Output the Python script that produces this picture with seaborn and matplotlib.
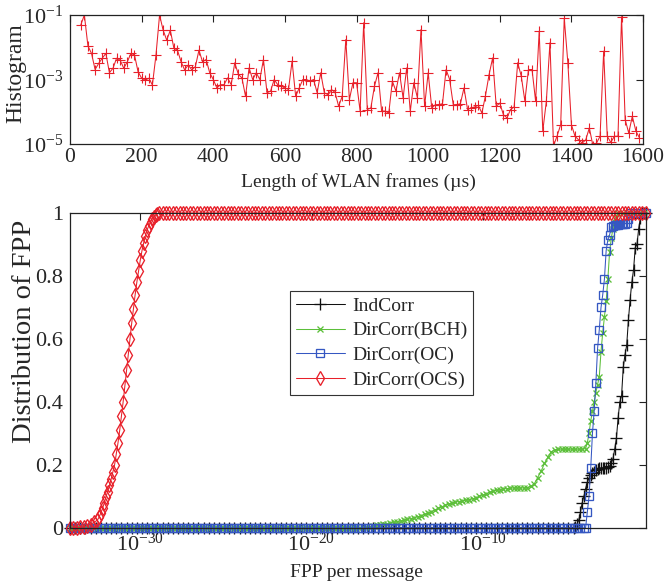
import matplotlib
matplotlib.use("Agg")
import numpy as np
import pandas as pd
import matplotlib.pyplot as plt
import seaborn as sns
from matplotlib.ticker import NullLocator

# ---------------- top panel: histogram of WLAN frame lengths ----------------
hist_x = [
    30, 40, 50, 60, 70, 80, 90, 100, 110, 120,
    130, 140, 150, 160, 170, 180, 190, 200, 210, 220,
    230, 240, 250, 260, 270, 280, 290, 300, 310, 320,
    330, 340, 350, 360, 370, 380, 390, 400, 410, 420,
    430, 440, 450, 460, 470, 480, 490, 500, 510, 520,
    530, 540, 550, 560, 570, 580, 590, 600, 610, 620,
    630, 640, 650, 660, 670, 680, 690, 700, 710, 720,
    730, 740, 750, 760, 770, 780, 790, 800, 810, 820,
    830, 840, 850, 860, 870, 880, 890, 900, 910, 920,
    930, 940, 950, 960, 970, 980, 990, 1000, 1010, 1020,
    1030, 1040, 1050, 1060, 1070, 1080, 1090, 1100, 1110, 1120,
    1130, 1140, 1150, 1160, 1170, 1180, 1190, 1200, 1210, 1220,
    1230, 1240, 1250, 1260, 1270, 1280, 1290, 1300, 1310, 1320,
    1330, 1340, 1350, 1360, 1370, 1380, 1390, 1400, 1410, 1420,
    1430, 1440, 1450, 1460, 1470, 1480, 1490, 1500, 1510, 1520,
    1530, 1540, 1550, 1560, 1570, 1580, 1590,
]
# log10 of the histogram value read at each frame length
hist_log10 = [
    -1.31, -1.00, -1.96, -2.19, -2.69, -2.50, -2.34, -2.19, -2.79, -2.65,
    -2.34, -2.40, -2.65, -2.45, -2.19, -2.24, -2.76, -2.96, -3.02, -2.96,
    -3.17, -2.24, -1.00, -1.47, -1.78, -1.47, -2.03, -2.09, -2.45, -2.70,
    -2.55, -2.70, -2.60, -2.09, -2.45, -2.38, -2.79, -3.00, -3.26, -3.16,
    -3.16, -2.95, -3.16, -2.48, -2.84, -2.95, -3.52, -2.64, -3.00, -2.79,
    -3.00, -2.38, -3.41, -3.36, -3.00, -3.16, -3.21, -3.26, -3.31, -2.43,
    -3.52, -3.26, -3.00, -3.00, -3.05, -3.00, -3.41, -2.79, -3.41, -3.47,
    -3.31, -3.40, -3.83, -3.52, -1.76, -3.62, -3.10, -3.10, -3.98, -1.24,
    -3.93, -3.88, -3.21, -2.79, -3.98, -3.98, -4.04, -3.05, -3.36, -2.79,
    -3.57, -2.64, -3.98, -3.10, -3.57, -1.45, -3.83, -2.79, -3.88, -3.78,
    -3.78, -3.75, -2.69, -3.00, -3.78, -3.78, -3.75, -3.26, -3.93, -3.88,
    -3.85, -3.80, -4.04, -3.50, -2.85, -2.33, -3.83, -3.73, -4.09, -4.19,
    -3.93, -3.85, -2.48, -2.90, -3.67, -2.69, -2.69, -3.67, -1.50, -4.60,
    -3.67, -1.86, -5.05, -4.75, -4.40, -1.10, -2.48, -4.40, -4.76, -4.87,
    -4.97, -4.87, -4.50, -5.05, -4.97, -4.76, -2.12, -4.76, -4.95, -4.76,
    -4.76, -1.05, -4.24, -4.66, -4.14, -4.60, -4.81,
]

# ---------------- bottom panel: distribution (CDF) of FPP ----------------
# all x values are log10(FPP per message)
# sample positions used along the flat (0 or 1) stretches of the curves
flat_exp = [
    -34.1, -33.9, -33.7, -33.5, -33.3, -33.1, -32.9, -32.7, -32.5, -32.3,
    -32.1, -31.9, -31.7, -31.5, -31.3, -31.1, -30.9, -30.7, -30.5, -30.3,
    -30.1, -29.9, -29.7, -29.5, -29.3, -29.1, -28.9, -28.7, -28.5, -28.3,
    -28.1, -27.9, -27.7, -27.5, -27.3, -27.1, -26.9, -26.7, -26.5, -26.3,
    -26.1, -25.9, -25.7, -25.5, -25.3, -25.1, -24.9, -24.7, -24.5, -24.3,
    -24.1, -23.9, -23.7, -23.5, -23.3, -23.1, -22.9, -22.7, -22.5, -22.3,
    -22.1, -21.9, -21.7, -21.5, -21.3, -21.1, -20.9, -20.7, -20.5, -20.3,
    -20.1, -19.9, -19.7, -19.5, -19.3, -19.1, -18.9, -18.7, -18.5, -18.3,
    -18.1, -17.9, -17.7, -17.5, -17.3, -17.1, -16.9, -16.7, -16.5, -16.3,
    -16.1, -15.9, -15.7, -15.5, -15.3, -15.1, -14.9, -14.7, -14.5, -14.3,
    -14.1, -13.9, -13.7, -13.5, -13.3, -13.1, -12.9, -12.7, -12.5, -12.3,
    -12.1, -11.9, -11.7, -11.5, -11.3, -11.1, -10.9, -10.7, -10.5, -10.3,
    -10.1, -9.9, -9.7, -9.5, -9.3, -9.1, -8.9, -8.7, -8.5, -8.3,
    -8.1, -7.9, -7.7, -7.5, -7.3, -7.1, -6.9, -6.7, -6.5, -6.3,
    -6.1, -5.9, -5.7, -5.5, -5.3, -5.1, -4.9, -4.7, -4.5, -4.3,
    -4.1, -3.9, -3.7, -3.5, -3.3, -3.1, -2.9, -2.7, -2.5, -2.3,
    -2.1, -1.9, -1.7, -1.5, -1.3, -1.1, -0.9, -0.7, -0.5,
]

# IndCorr
indcorr_exp = [
    -34.1, -33.8, -33.5, -33.2, -32.9, -32.6, -32.3, -32.0, -31.7, -31.4,
    -31.1, -30.8, -30.5, -30.2, -29.9, -29.6, -29.3, -29.0, -28.7, -28.4,
    -28.1, -27.8, -27.5, -27.2, -26.9, -26.6, -26.3, -26.0, -25.7, -25.4,
    -25.1, -24.8, -24.5, -24.2, -23.9, -23.6, -23.3, -23.0, -22.7, -22.4,
    -22.1, -21.8, -21.5, -21.2, -20.9, -20.6, -20.3, -20.0, -19.7, -19.4,
    -19.1, -18.8, -18.5, -18.2, -17.9, -17.6, -17.3, -17.0, -16.7, -16.4,
    -16.1, -15.8, -15.5, -15.2, -14.9, -14.6, -14.3, -14.0, -13.7, -13.4,
    -13.1, -12.8, -12.5, -12.2, -11.9, -11.6, -11.3, -11.0, -10.7, -10.4,
    -10.1, -9.8, -9.5, -9.2, -8.9, -8.6, -8.3, -8.0, -7.7, -7.4,
    -7.1, -6.8, -6.5, -6.2, -5.9, -5.6, -5.3, -5.0, -4.7,
    -4.6, -4.5, -4.4, -4.3, -4.2, -4.1, -4.0, -3.9, -3.8, -3.7,
    -3.6, -3.5, -3.4, -3.3, -3.2, -3.1, -3.0, -2.9, -2.8, -2.7,
    -2.6, -2.5, -2.4, -2.3, -2.2, -2.1, -2.0, -1.9, -1.8, -1.7,
    -1.6, -1.5, -1.4, -1.3, -1.2, -1.1, -1.0, -0.9, -0.8, -0.7,
    -0.6, -0.5,
]
indcorr_cdf = [
    0, 0, 0, 0, 0, 0, 0, 0, 0, 0,
    0, 0, 0, 0, 0, 0, 0, 0, 0, 0,
    0, 0, 0, 0, 0, 0, 0, 0, 0, 0,
    0, 0, 0, 0, 0, 0, 0, 0, 0, 0,
    0, 0, 0, 0, 0, 0, 0, 0, 0, 0,
    0, 0, 0, 0, 0, 0, 0, 0, 0, 0,
    0, 0, 0, 0, 0, 0, 0, 0, 0, 0,
    0, 0, 0, 0, 0, 0, 0, 0, 0, 0,
    0, 0, 0, 0, 0, 0, 0, 0, 0, 0,
    0, 0, 0, 0, 0, 0, 0, 0, 0,
    0.004, 0.012, 0.025, 0.05, 0.08, 0.10, 0.125, 0.145, 0.158, 0.167,
    0.173, 0.178, 0.183, 0.187, 0.19, 0.19, 0.19, 0.19, 0.192, 0.195,
    0.197, 0.205, 0.22, 0.25, 0.285, 0.35, 0.40, 0.42, 0.51, 0.55,
    0.58, 0.66, 0.725, 0.78, 0.82, 0.89, 0.90, 0.95, 0.985, 1.0,
    1.0, 1.0,
]

# DirCorr(BCH): zero up to -17.5, then read values
bch_exp = flat_exp[:84] + [
    -17.4, -17.2, -17.0, -16.8, -16.6, -16.4, -16.2, -16.0,
    -15.8, -15.6, -15.4, -15.2, -15.0, -14.8, -14.6, -14.4, -14.2, -14.0,
    -13.8, -13.6, -13.4, -13.2, -13.0, -12.8, -12.6, -12.4, -12.2, -12.0,
    -11.8, -11.6, -11.4, -11.2, -11.0, -10.8, -10.6, -10.4, -10.2, -10.0,
    -9.8, -9.6, -9.4, -9.2, -9.0, -8.8, -8.6, -8.4, -8.2, -8.0,
    -7.8, -7.6, -7.4, -7.2, -7.0, -6.8, -6.6, -6.4, -6.2, -6.0,
    -5.8, -5.6, -5.4, -5.2, -5.0, -4.8, -4.6, -4.4, -4.2, -4.0,
    -3.9, -3.8, -3.7, -3.6, -3.5, -3.4, -3.3, -3.2, -3.1, -3.0,
    -2.9, -2.8, -2.7, -2.6, -2.5, -2.4, -2.3, -2.2, -2.1,
    -1.8, -1.5, -1.2, -0.9, -0.6,
]
bch_cdf = [
    0, 0, 0, 0, 0, 0, 0, 0, 0, 0,
    0, 0, 0, 0, 0, 0, 0, 0, 0, 0,
    0, 0, 0, 0, 0, 0, 0, 0, 0, 0,
    0, 0, 0, 0, 0, 0, 0, 0, 0, 0,
    0, 0, 0, 0, 0, 0, 0, 0, 0, 0,
    0, 0, 0, 0, 0, 0, 0, 0, 0, 0,
    0, 0, 0, 0, 0, 0, 0, 0, 0, 0,
    0, 0, 0, 0, 0, 0, 0, 0, 0, 0,
    0, 0, 0, 0,
    0.000, 0.001, 0.002, 0.003, 0.004, 0.006, 0.008, 0.010,
    0.012, 0.014, 0.016, 0.018, 0.020, 0.022, 0.025, 0.027, 0.030, 0.033,
    0.036, 0.039, 0.043, 0.047, 0.052, 0.057, 0.062, 0.067, 0.072, 0.076,
    0.079, 0.082, 0.084, 0.086, 0.088, 0.090, 0.093, 0.096, 0.100, 0.104,
    0.108, 0.113, 0.117, 0.120, 0.122, 0.124, 0.125, 0.126, 0.127, 0.127,
    0.127, 0.127, 0.128, 0.132, 0.140, 0.160, 0.180, 0.205, 0.225, 0.242,
    0.248, 0.250, 0.250, 0.250, 0.250, 0.250, 0.250, 0.250, 0.250, 0.252,
    0.27, 0.30, 0.34, 0.37, 0.40, 0.43, 0.455, 0.48, 0.56, 0.62,
    0.67, 0.72, 0.79, 0.875, 0.92, 0.95, 0.97, 0.985, 1.0,
    1.0, 1.0, 1.0, 1.0, 1.0,
]

# DirCorr(OC): zero up to -4.1, then read values
oc_exp = flat_exp[:151] + [
    -4.0, -3.9, -3.8, -3.7, -3.6, -3.5, -3.4, -3.3, -3.2, -3.1,
    -3.0, -2.9, -2.8, -2.7, -2.6, -2.5, -2.4, -2.3, -2.2, -2.1,
    -2.0, -1.9, -1.8, -1.7, -1.6, -1.5, -1.4,
    -1.1, -0.8, -0.5,
]
oc_cdf = [
    0, 0, 0, 0, 0, 0, 0, 0, 0, 0,
    0, 0, 0, 0, 0, 0, 0, 0, 0, 0,
    0, 0, 0, 0, 0, 0, 0, 0, 0, 0,
    0, 0, 0, 0, 0, 0, 0, 0, 0, 0,
    0, 0, 0, 0, 0, 0, 0, 0, 0, 0,
    0, 0, 0, 0, 0, 0, 0, 0, 0, 0,
    0, 0, 0, 0, 0, 0, 0, 0, 0, 0,
    0, 0, 0, 0, 0, 0, 0, 0, 0, 0,
    0, 0, 0, 0, 0, 0, 0, 0, 0, 0,
    0, 0, 0, 0, 0, 0, 0, 0, 0, 0,
    0, 0, 0, 0, 0, 0, 0, 0, 0, 0,
    0, 0, 0, 0, 0, 0, 0, 0, 0, 0,
    0, 0, 0, 0, 0, 0, 0, 0, 0, 0,
    0, 0, 0, 0, 0, 0, 0, 0, 0, 0,
    0, 0, 0, 0, 0, 0, 0, 0, 0, 0,
    0,
    0.0, 0.05, 0.10, 0.19, 0.30, 0.37, 0.46, 0.57, 0.63, 0.70,
    0.74, 0.79, 0.88, 0.915, 0.93, 0.955, 0.96, 0.962, 0.962, 0.963,
    0.964, 0.965, 0.965, 0.966, 0.968, 0.98, 1.0,
    1.0, 1.0, 1.0,
]

# DirCorr(OCS): read values, then one from -28.7 onwards
ocs_exp = flat_exp[:8] + [
    -32.5, -32.4, -32.3, -32.2, -32.1, -32.0, -31.9, -31.8, -31.7, -31.6,
    -31.5, -31.4, -31.3, -31.2, -31.1, -31.0, -30.9, -30.8, -30.7, -30.6,
    -30.5, -30.4, -30.3, -30.2, -30.1, -30.0, -29.9, -29.8, -29.7, -29.6,
    -29.5, -29.4, -29.3, -29.2, -29.1, -29.0, -28.9,
] + flat_exp[27:]
ocs_cdf = [
    0.0, 0.0, 0.001, 0.002, 0.004, 0.007, 0.011, 0.018,
    0.025, 0.035, 0.048, 0.062, 0.08, 0.098, 0.115, 0.135, 0.155, 0.178,
    0.20, 0.235, 0.27, 0.31, 0.355, 0.40, 0.45, 0.50, 0.55, 0.60,
    0.65, 0.695, 0.74, 0.78, 0.815, 0.85, 0.88, 0.905, 0.928, 0.946,
    0.96, 0.972, 0.981, 0.988, 0.993, 0.997, 1.0,
    1, 1, 1, 1, 1, 1, 1, 1, 1, 1,
    1, 1, 1, 1, 1, 1, 1, 1, 1, 1,
    1, 1, 1, 1, 1, 1, 1, 1, 1, 1,
    1, 1, 1, 1, 1, 1, 1, 1, 1, 1,
    1, 1, 1, 1, 1, 1, 1, 1, 1, 1,
    1, 1, 1, 1, 1, 1, 1, 1, 1, 1,
    1, 1, 1, 1, 1, 1, 1, 1, 1, 1,
    1, 1, 1, 1, 1, 1, 1, 1, 1, 1,
    1, 1, 1, 1, 1, 1, 1, 1, 1, 1,
    1, 1, 1, 1, 1, 1, 1, 1, 1, 1,
    1, 1, 1, 1, 1, 1, 1, 1, 1, 1,
    1, 1, 1, 1, 1, 1, 1, 1, 1, 1,
    1, 1, 1, 1, 1, 1, 1, 1, 1, 1,
    1, 1, 1, 1, 1, 1, 1, 1, 1, 1,
    1, 1,
]

series_labels = ["IndCorr", "DirCorr(BCH)", "DirCorr(OC)", "DirCorr(OCS)"]
x_ticks_top = [0, 200, 400, 600, 800, 1000, 1200, 1400, 1600]
y_ticks_top = [1e-5, 1e-3, 1e-1]
x_ticks_bottom = [1e-30, 1e-20, 1e-10]
y_ticks_bottom = [0, 0.2, 0.4, 0.6, 0.8, 1.0]
y_ticklabels_bottom = ["0", "0.2", "0.4", "0.6", "0.8", "1"]

# ---------------- style ----------------
sns.set_theme(style="white")
plt.rcParams["font.family"] = ["Liberation Serif", "DejaVu Serif"]
plt.rcParams["mathtext.fontset"] = "custom"
plt.rcParams["mathtext.rm"] = "Liberation Serif"
plt.rcParams["mathtext.it"] = "Liberation Serif:italic"
plt.rcParams["mathtext.bf"] = "Liberation Serif:bold"
plt.rcParams["axes.edgecolor"] = "#222222"
plt.rcParams["axes.linewidth"] = 0.9

RED = "#e8202a"
GREEN = "#5cbf3a"
BLUE = "#3557c2"
BLACK = "#111111"

fig = plt.figure(figsize=(6.65, 5.84), dpi=100)
ax1 = fig.add_axes([0.1053, 0.7534, 0.8617, 0.2209])
ax2 = fig.add_axes([0.1053, 0.0959, 0.8662, 0.5394])

# ---- top panel ----
hist_df = pd.DataFrame({"len": hist_x, "hist": 10.0 ** np.array(hist_log10)})
sns.lineplot(data=hist_df, x="len", y="hist", ax=ax1, estimator=None, sort=False,
             color=RED, linewidth=0.75, marker="+", markersize=6.5,
             markeredgewidth=0.8, markeredgecolor=RED)
ax1.set_yscale("log")
ax1.set_xlim(0, 1600)
ax1.set_ylim(1e-5, 1e-1)
ax1.set_xticks(x_ticks_top)
ax1.set_xticklabels([str(v) for v in x_ticks_top])
ax1.set_yticks(y_ticks_top)
ax1.yaxis.set_minor_locator(NullLocator())
ax1.xaxis.set_minor_locator(NullLocator())
ax1.set_xlabel("Length of WLAN frames (µs)", fontsize=14)
ax1.set_ylabel("Histogram", fontsize=17)
ax1.xaxis.set_label_coords(0.504, -0.225)
ax1.yaxis.set_label_coords(-0.077, 0.55)

# ---- bottom panel ----
specs = [
    (indcorr_exp, indcorr_cdf, BLACK, "+", 8.5, BLACK),
    (bch_exp, bch_cdf, GREEN, "x", 4.8, GREEN),
    (oc_exp, oc_cdf, BLUE, "s", 5.8, "none"),
    (ocs_exp, ocs_cdf, RED, "d", 7.0, "none"),
]
for label, (exps, cdf, col, mk, ms, mfc) in zip(series_labels, specs):
    df = pd.DataFrame({"fpp": 10.0 ** np.array(exps), "cdf": cdf})
    sns.lineplot(data=df, x="fpp", y="cdf", ax=ax2, estimator=None, sort=False,
                 color=col, linewidth=0.75, marker=mk, markersize=ms,
                 markeredgewidth=0.95, markeredgecolor=col, markerfacecolor=mfc,
                 label=label, clip_on=False)

ax2.set_xscale("log")
ax2.set_xlim(10 ** -34.1, 10 ** -0.47)
ax2.set_ylim(0, 1)
ax2.set_xticks(x_ticks_bottom)
ax2.xaxis.set_minor_locator(NullLocator())
ax2.set_yticks(y_ticks_bottom)
ax2.set_yticklabels(y_ticklabels_bottom)
ax2.set_xlabel("FPP per message", fontsize=14)
ax2.set_ylabel("Distribution of FPP", fontsize=20.5)
ax2.xaxis.set_label_coords(0.497, -0.115)
ax2.yaxis.set_label_coords(-0.058, 0.624)

leg = ax2.legend(loc="upper left", bbox_to_anchor=(0.382, 0.752), fontsize=14,
                 frameon=True, fancybox=False, framealpha=1, edgecolor="#333333",
                 handlelength=2.5, handletextpad=0.4, labelspacing=0.37,
                 borderpad=0.3, borderaxespad=0.0)
leg.get_frame().set_linewidth(0.8)

for ax in (ax1, ax2):
    ax.tick_params(which="both", direction="in", top=True, right=True,
                   length=5, width=0.8, color="#222222", labelsize=16)
    ax.tick_params(axis="x", pad=3)
    ax.tick_params(axis="y", pad=5)
    for sp in ax.spines.values():
        sp.set_visible(True)
        sp.set_color("#222222")
ax1.tick_params(axis="x", labelsize=15.5)

fig.savefig("out.png", dpi=100)
